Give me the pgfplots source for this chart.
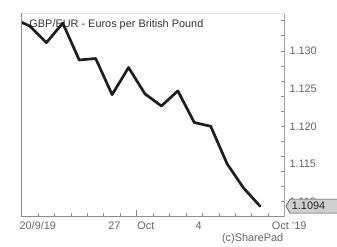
\documentclass[border=0pt]{standalone}
\usepackage{fontspec}
\setmainfont{Liberation Sans}
\usepackage{pgfplots}
\pgfplotsset{compat=1.18}
\definecolor{lab}{HTML}{666666}
\definecolor{axc}{HTML}{8C8C8C}
\definecolor{titc}{HTML}{333333}
\definecolor{linec}{HTML}{1E1E1E}
\begin{document}
\begin{tikzpicture}
\fontsize{10.9bp}{12bp}\selectfont
\begin{axis}[
  name=ax, at={(0,0)}, anchor=south west,
  scale only axis, width=263bp, height=203.4bp,
  xmin=0, xmax=16, ymin=1.108, ymax=1.135,
  axis x line*=bottom, axis y line*=right,
  x axis line style={-, draw=axc, line width=0.8bp},
  y axis line style={-, draw=axc!80, line width=1bp},
  tick align=inside,
  major tick length=7bp, minor tick length=4bp,
  xtick={0.98,5.64,7.55,10.77},
  xticklabels={20/9/19,27,Oct,4},
  major x tick style={draw=none},
  minor xtick={1,2,3,4,5,6,7,8,9,10,11,12,13,14,15},
  extra x ticks={7}, extra x tick labels={},
  extra x tick style={major x tick style={draw=axc, line width=0.8bp}},
  minor x tick style={draw=axc, line width=0.8bp},
  ytick={1.110,1.115,1.120,1.125,1.130},
  major y tick style={draw=none},
  minor ytick={1.110,1.112,1.114,1.116,1.118,1.120,1.122,1.124,1.126,1.128,1.130,1.132,1.134},
  minor y tick style={draw=axc, line width=0.8bp},
  yticklabel pos=right,
  yticklabel style={anchor=west, inner sep=0pt, xshift=4.6bp, text=lab, font=\fontsize{10.9bp}{12bp}\selectfont,
    /pgf/number format/.cd, fixed, fixed zerofill, precision=3, assume math mode=true},
  xticklabel style={anchor=base, inner sep=0pt, yshift=-12.5bp, text=lab, font=\fontsize{10.9bp}{12bp}\selectfont},
  clip=true,
]
\node[anchor=base west, inner sep=0pt, text=titc, font=\fontsize{10.9bp}{12bp}\selectfont]
  at ([xshift=7.6bp, yshift=-13.9bp]rel axis cs:0,1) {GBP/EUR - Euros per British Pound};
\addplot[color=linec, line width=2.7bp, line join=round, line cap=round] coordinates {
(-0.5,1.1343) (0.5,1.1333) (1.5,1.1311) (2.5,1.1337) (3.5,1.1288) (4.5,1.1290)
(5.5,1.1242) (6.5,1.1278) (7.5,1.1243) (8.5,1.1227) (9.5,1.1247) (10.5,1.1205)
(11.5,1.1200) (12.5,1.1150) (13.5,1.1118) (14.5,1.1094)
};
\coordinate (tag) at (axis cs:16,1.1094);
\end{axis}
% left and faint top border
\draw[axc, line width=0.8bp] (ax.south west) -- (ax.north west);
\draw[gray!25, line width=0.6bp] (ax.north west) -- (ax.north east);
% last value tag
\draw[fill=gray!38, draw=black!70, line width=0.6bp] (tag) ++(1.3bp,0) -- ++(4bp,7bp) -- ++(52bp,0) -- ++(0,-14bp) -- ++(-52bp,0) -- cycle;
\node[anchor=west, inner sep=0pt, text=black!85, font=\fontsize{10.9bp}{12bp}\selectfont] at ([xshift=7bp]tag) {1.1094};
\node[anchor=base, inner sep=0pt, text=lab] at ([xshift=4.5bp, yshift=-12.5bp]ax.south east) {Oct '19};
\node[anchor=base, inner sep=0pt, text=lab] at ([xshift=-32bp, yshift=-24.7bp]ax.south east) {(c)SharePad};
\pgfresetboundingbox
\path[use as bounding box] ([xshift=-21.7bp,yshift=-30.3bp]ax.south west) rectangle ([xshift=52.3bp,yshift=13.3bp]ax.north east);
\end{tikzpicture}
\end{document}
